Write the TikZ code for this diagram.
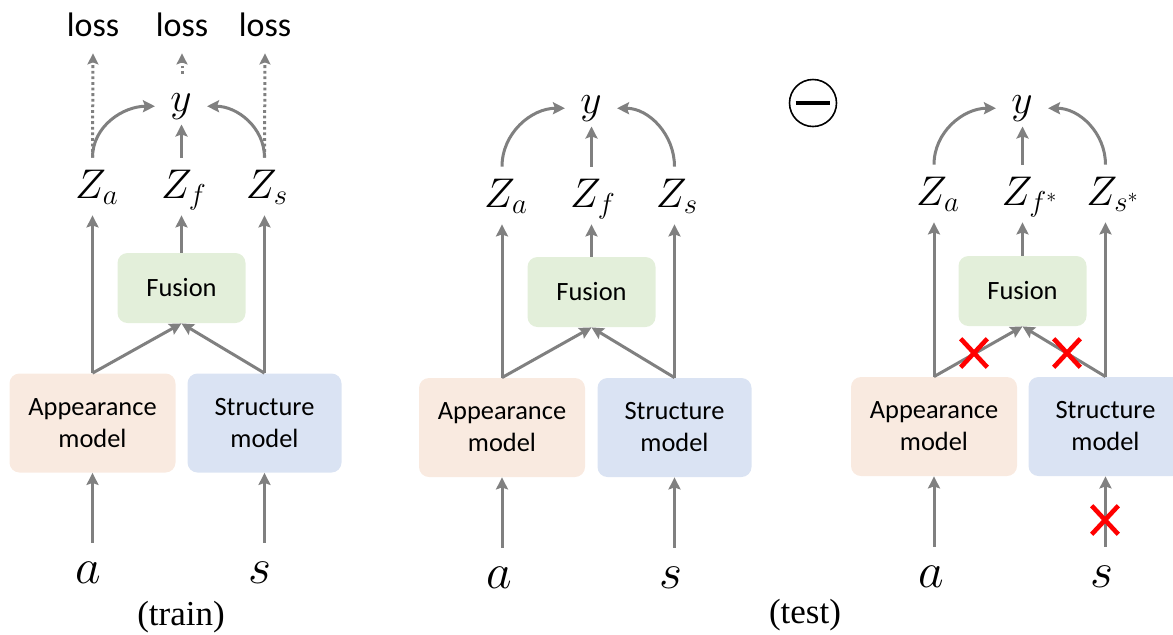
\documentclass[tikz,border=0pt]{standalone}
\usepackage{fontspec}
\setmainfont{Carlito}
\newfontfamily\capfont{Liberation Serif}
\usetikzlibrary{arrows.meta,shapes.misc}
\definecolor{arrgray}{RGB}{128,128,128}
\definecolor{appfill}{RGB}{249,234,224}
\definecolor{strfill}{RGB}{218,227,243}
\definecolor{fusfill}{RGB}{227,239,218}
\begin{document}
\begin{tikzpicture}[x=0.5pt,y=-0.5pt,
  mbox/.style={rounded corners=5pt, align=center, inner sep=0pt,
    font=\fontsize{13.2}{16}\selectfont, minimum height=49.5pt},
  appbox/.style={mbox, fill=appfill, minimum width=83pt},
  strbox/.style={mbox, fill=strfill, minimum width=77pt},
  fusbox/.style={mbox, fill=fusfill, minimum width=64pt, minimum height=35pt},
  zlbl/.style={anchor=base, inner sep=0pt, text height=20pt, text depth=8.5pt, font=\fontsize{20}{24}\selectfont},
  ylbl/.style={anchor=base, inner xsep=7.5pt, inner ysep=2.5pt, font=\fontsize{22}{26}\selectfont},
  inlbl/.style={anchor=base, inner sep=0pt, text height=20pt, text depth=0pt, font=\fontsize{23}{26}\selectfont},
  losslbl/.style={anchor=base, inner sep=0pt, text depth=8.5pt, font=\fontsize{17}{20}\selectfont},
  caplbl/.style={font=\capfont\fontsize{17.5}{20}\selectfont},
  arr/.style={draw=arrgray, line width=1.5pt, -{Stealth[length=6pt,width=6pt,inset=1pt]}},
  dotarr/.style={draw=arrgray, line width=1.5pt, dash pattern=on 1.4pt off 1.4pt, -{Stealth[length=5.5pt,width=5.5pt,inset=1pt]}},
  xmark/.style={cross out, draw=red, line width=2.3pt, minimum width=11pt, minimum height=12pt, inner sep=0pt}
]
\useasboundingbox (0,0) rectangle (1173,634);

% ---------------- train ----------------
\node[appbox] (app1) at (92.5,423) {Appearance\\model};
\node[strbox] (str1) at (264.5,423) {Structure\\model};
\node[fusbox] (fus1) at (181.5,288) {Fusion};
\node[zlbl] (za1) at (97,198) {$Z_a$};
\node[zlbl] (zf1) at (184,198) {$Z_f$};
\node[zlbl] (zs1) at (267,198) {$Z_s$};
\node[ylbl] (y1) at (181,111) {$y$};
\node[losslbl] (l1) at (93,36) {loss};
\node[losslbl] (l2) at (182,36) {loss};
\node[losslbl] (l3) at (265,36) {loss};
\node[inlbl] (a1) at (88,583) {$a$};
\node[inlbl] (s1) at (260,583) {$s$};
\node[caplbl] (cap1) at (181,617) {(train)};
\coordinate (d2) at (182,74);

\draw[arr] (app1.north) -- (app1.north |- za1.south);
\draw[arr] (str1.north) -- (str1.north |- zs1.south);
\draw[arr] (app1.north) -- (fus1.south);
\draw[arr] (str1.north) -- (fus1.south);
\draw[arr] (fus1.north) -- (fus1.north |- zf1.south);
\draw[arr] (app1.north |- za1.north) to[out=90,in=180] (y1.mid west);
\draw[arr] (str1.north |- zs1.north) to[out=90,in=0] (y1.mid east);
\draw[arr] (fus1.north |- zf1.north) -- (fus1.north |- y1.south);
\draw[dotarr] (app1.north |- za1.north) -- (l1.south);
\draw[dotarr] (str1.north |- zs1.north) -- (l3.south);
\draw[dotarr] (d2) -- (l2.south);
\draw[arr] (app1.south |- a1.north) -- (app1.south);
\draw[arr] (str1.south |- s1.north) -- (str1.south);

% ---------------- test (middle) ----------------
\node[appbox] (app2) at (502,427.5) {Appearance\\model};
\node[strbox] (str2) at (674.5,427.5) {Structure\\model};
\node[fusbox] (fus2) at (591.5,292) {Fusion};
\node[zlbl] (za2) at (506,207) {$Z_a$};
\node[zlbl] (zf2) at (593,207) {$Z_f$};
\node[zlbl] (zs2) at (677,207) {$Z_s$};
\node[ylbl] (y2) at (591,113) {$y$};
\node[inlbl] (a2) at (499,588) {$a$};
\node[inlbl] (s2) at (671,588) {$s$};
\node[caplbl] (cap2) at (805,615) {(test)};

\draw[arr] (app2.north) -- (app2.north |- za2.south);
\draw[arr] (str2.north) -- (str2.north |- zs2.south);
\draw[arr] (app2.north) -- (fus2.south);
\draw[arr] (str2.north) -- (fus2.south);
\draw[arr] (fus2.north) -- (fus2.north |- zf2.south);
\draw[arr] (app2.north |- za2.north) to[out=90,in=180] (y2.mid west);
\draw[arr] (str2.north |- zs2.north) to[out=90,in=0] (y2.mid east);
\draw[arr] (fus2.north |- zf2.north) -- (fus2.north |- y2.south);
\draw[arr] (app2.south |- a2.north) -- (app2.south);
\draw[arr] (str2.south |- s2.north) -- (str2.south);

% minus sign
\node[circle, draw, line width=0.8pt, minimum size=23.5pt, inner sep=0pt] (minus) at (813,103) {};
\draw[line width=2pt] ([xshift=3.5pt]minus.west) -- ([xshift=-3.5pt]minus.east);

% ---------------- test (right) ----------------
\node[appbox] (app3) at (934,426.5) {Appearance\\model};
\node[strbox] (str3) at (1105.5,426.5) {Structure\\model};
\node[fusbox] (fus3) at (1022.5,291) {Fusion};
\node[zlbl] (za3) at (938,205) {$Z_a$};
\node[zlbl] (zf3) at (1030,205) {$Z_{f^*}$};
\node[zlbl] (zs3) at (1113,205) {$Z_{s^*}$};
\node[ylbl] (y3) at (1022,113) {$y$};
\node[inlbl] (a3) at (931,587) {$a$};
\node[inlbl] (s3) at (1102,587) {$s$};

\draw[arr] (app3.north) -- (app3.north |- za3.south);
\draw[arr] (str3.north) -- (str3.north |- zs3.south);
\draw[arr] (app3.north) -- (fus3.south);
\draw[arr] (str3.north) -- (fus3.south);
\draw[arr] (fus3.north) -- (fus3.north |- zf3.south);
\draw[arr] (app3.north |- za3.north) to[out=90,in=180] (y3.mid west);
\draw[arr] (str3.north |- zs3.north) to[out=90,in=0] (y3.mid east);
\draw[arr] (fus3.north |- zf3.north) -- (fus3.north |- y3.south);
\draw[arr] (app3.south |- a3.north) -- (app3.south);
\draw[arr] (str3.south |- s3.north) -- (str3.south);

\node[xmark] (x1) at (974,353) {};
\node[xmark] (x2) at (1067,353) {};
\node[xmark] (x3) at (1105,520) {};
\end{tikzpicture}
\end{document}
